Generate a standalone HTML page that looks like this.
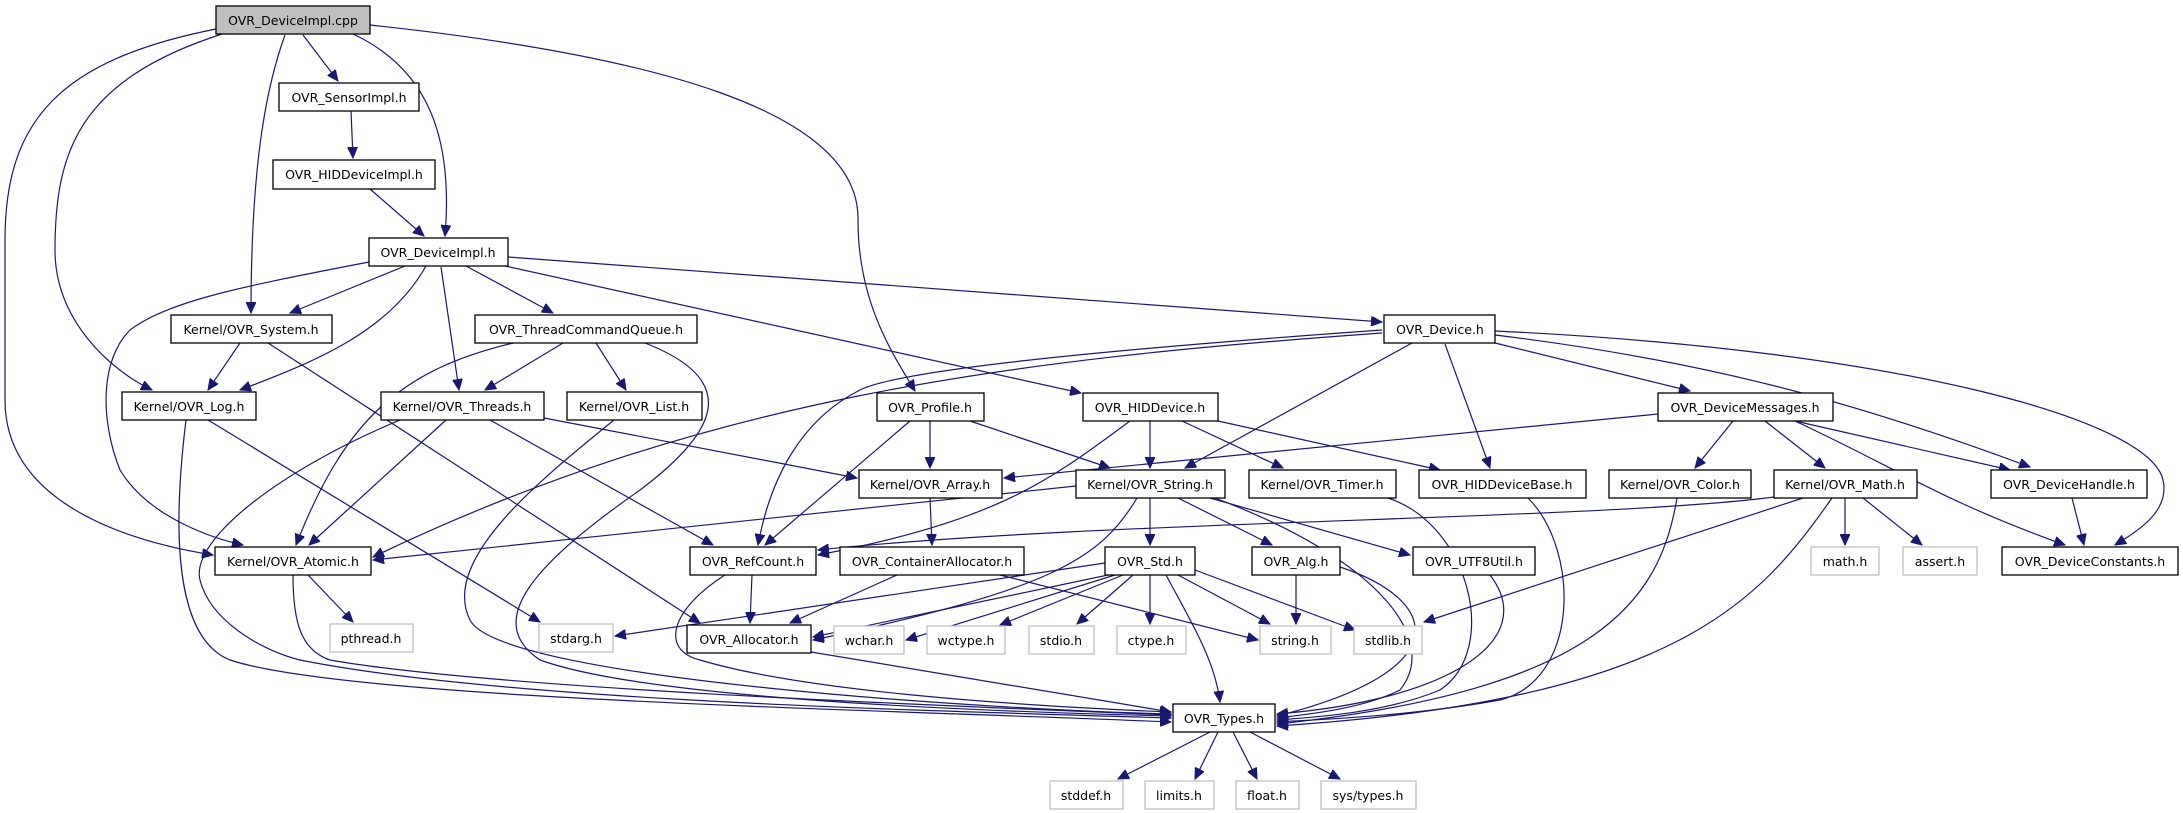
<!DOCTYPE html>
<html><head><meta charset="utf-8"><style>
html,body{margin:0;padding:0;background:#fff;}
svg{display:block;}
text{font-family:"DejaVu Sans","Liberation Sans",sans-serif;font-size:12.5px;fill:#000;}
.n{fill:#fff;stroke:#000;stroke-width:1.3;}
.g{fill:#fff;stroke:#bfbfbf;stroke-width:1.3;}
.r{fill:#bfbfbf;stroke:#000;stroke-width:1.3;}
.e{fill:none;stroke:#191970;stroke-width:1.2;marker-end:url(#a);}
</style></head><body>
<svg width="2183" height="813" viewBox="0 0 2183 813" xmlns="http://www.w3.org/2000/svg">
<defs><marker id="a" markerUnits="userSpaceOnUse" markerWidth="12" markerHeight="10" refX="11" refY="5" orient="auto"><path d="M0,0 L11,5 L0,10 z" fill="#191970" stroke="#191970"/></marker></defs>
<g>
<path class="e" d="M216,29 C60,60 5,120 5,240 L5,400 C5,500 120,540 213,555"/>
<path class="e" d="M222,34 C80,80 55,150 55,250 C55,320 110,370 152,390"/>
<path class="e" d="M285,35 C265,90 251,170 251,313"/>
<path class="e" d="M303,35 L338,81"/>
<path class="e" d="M353,34 C430,70 453,140 445,236"/>
<path class="e" d="M370,25 C650,55 860,110 858,220 C858,300 890,350 915,391"/>
<path class="e" d="M351,111 L353,158"/>
<path class="e" d="M370,189 L424,236"/>
<path class="e" d="M369,262 C250,285 170,300 130,330 C100,360 100,420 120,470 C150,520 220,540 243,545"/>
<path class="e" d="M405,266 L290,313"/>
<path class="e" d="M426,266 C390,330 320,360 240,390"/>
<path class="e" d="M441,267 L459,390"/>
<path class="e" d="M466,266 L553,313"/>
<path class="e" d="M505,266 L1081,393"/>
<path class="e" d="M508,257 L1382,322"/>
<path class="e" d="M240,343 L208,390"/>
<path class="e" d="M268,343 L700,623"/>
<path class="e" d="M513,343 C400,370 345,420 296,545"/>
<path class="e" d="M563,343 L485,390"/>
<path class="e" d="M596,343 L626,390"/>
<path class="e" d="M645,343 C740,380 720,430 640,490 C540,560 480,620 540,660 C650,700 1000,712 1171,716"/>
<path class="e" d="M614,420 C540,480 440,560 470,620 C500,680 1000,710 1171,714"/>
<path class="e" d="M186,420 C170,550 180,640 230,660 C350,700 900,710 1171,722"/>
<path class="e" d="M208,420 L540,622"/>
<path class="e" d="M446,420 L309,545"/>
<path class="e" d="M400,420 C280,470 190,540 200,580 C210,620 260,650 300,660 C500,700 900,710 1171,718"/>
<path class="e" d="M490,420 L713,545"/>
<path class="e" d="M544,418 L857,478"/>
<path class="e" d="M308,575 L353,622"/>
<path class="e" d="M293,575 C293,620 300,650 330,660 C500,690 1000,708 1171,715"/>
<path class="e" d="M910,421 L765,545"/>
<path class="e" d="M930,421 L930,468"/>
<path class="e" d="M970,421 L1110,468"/>
<path class="e" d="M1382,330 C1100,350 900,370 860,390 C800,420 770,480 758,545"/>
<path class="e" d="M1382,333 C1000,360 700,400 373,557"/>
<path class="e" d="M1412,343 L1185,468"/>
<path class="e" d="M1445,344 L1490,468"/>
<path class="e" d="M1495,343 L1690,391"/>
<path class="e" d="M1495,335 C1700,360 1850,400 2030,467"/>
<path class="e" d="M1495,331 C1900,350 2150,420 2163,480 C2170,510 2140,530 2115,545"/>
<path class="e" d="M1130,421 C1050,480 1000,520 818,555"/>
<path class="e" d="M1150,421 L1150,468"/>
<path class="e" d="M1182,421 L1283,468"/>
<path class="e" d="M1218,421 L1440,470"/>
<path class="e" d="M1658,414 L1004,478"/>
<path class="e" d="M1733,421 L1695,468"/>
<path class="e" d="M1765,421 L1825,468"/>
<path class="e" d="M1795,421 L2010,470"/>
<path class="e" d="M1795,421 C1900,470 1940,500 2065,545"/>
<path class="e" d="M1076,486 L373,560"/>
<path class="e" d="M1150,498 L1150,545"/>
<path class="e" d="M1178,498 L1272,545"/>
<path class="e" d="M1210,498 L1410,555"/>
<path class="e" d="M1215,498 C1380,560 1440,640 1400,690 C1360,710 1300,715 1277,718"/>
<path class="e" d="M1137,498 C1100,560 1050,590 813,640"/>
<path class="e" d="M930,498 L932,545"/>
<path class="e" d="M1388,498 C1470,525 1500,650 1440,690 C1380,715 1300,718 1277,720"/>
<path class="e" d="M1528,498 C1580,550 1580,680 1500,700 C1400,718 1300,720 1277,722"/>
<path class="e" d="M1677,498 C1660,600 1600,690 1277,724"/>
<path class="e" d="M1774,497 C1600,520 1100,520 818,550"/>
<path class="e" d="M1803,498 L1424,622"/>
<path class="e" d="M1832,498 C1760,600 1680,700 1277,726"/>
<path class="e" d="M1845,498 L1845,545"/>
<path class="e" d="M1863,498 L1922,545"/>
<path class="e" d="M2072,498 L2084,545"/>
<path class="e" d="M752,575 L750,623"/>
<path class="e" d="M725,575 C670,610 660,650 700,660 C800,690 1000,705 1171,712"/>
<path class="e" d="M897,575 L790,623"/>
<path class="e" d="M1000,575 L1258,640"/>
<path class="e" d="M1105,563 L615,636"/>
<path class="e" d="M1108,575 L813,637"/>
<path class="e" d="M1115,575 L906,640"/>
<path class="e" d="M1123,575 L1000,625"/>
<path class="e" d="M1133,575 L1077,624"/>
<path class="e" d="M1150,575 L1150,624"/>
<path class="e" d="M1178,575 L1270,624"/>
<path class="e" d="M1195,570 L1355,630"/>
<path class="e" d="M1166,575 C1190,620 1215,660 1220,702"/>
<path class="e" d="M1296,575 L1296,624"/>
<path class="e" d="M1340,567 C1440,600 1460,670 1277,716"/>
<path class="e" d="M1490,575 C1540,640 1450,700 1277,714"/>
<path class="e" d="M811,652 L1171,712"/>
<path class="e" d="M1210,732 L1118,779"/>
<path class="e" d="M1218,732 L1195,779"/>
<path class="e" d="M1233,732 L1257,779"/>
<path class="e" d="M1250,732 L1340,779"/>
</g>
<g>
<rect class="r" x="216" y="6" width="154" height="28"/><text x="293" y="25" text-anchor="middle">OVR_DeviceImpl.cpp</text>
<rect class="n" x="279" y="83" width="140" height="28"/><text x="349" y="102" text-anchor="middle">OVR_SensorImpl.h</text>
<rect class="n" x="273" y="160" width="162" height="29"/><text x="354" y="179" text-anchor="middle">OVR_HIDDeviceImpl.h</text>
<rect class="n" x="369" y="238" width="139" height="28"/><text x="438" y="257" text-anchor="middle">OVR_DeviceImpl.h</text>
<rect class="n" x="171" y="315" width="161" height="28"/><text x="251" y="334" text-anchor="middle">Kernel/OVR_System.h</text>
<rect class="n" x="475" y="315" width="222" height="28"/><text x="586" y="334" text-anchor="middle">OVR_ThreadCommandQueue.h</text>
<rect class="n" x="1384" y="315" width="111" height="28"/><text x="1440" y="334" text-anchor="middle">OVR_Device.h</text>
<rect class="n" x="122" y="392" width="134" height="28"/><text x="189" y="411" text-anchor="middle">Kernel/OVR_Log.h</text>
<rect class="n" x="381" y="392" width="163" height="28"/><text x="462" y="411" text-anchor="middle">Kernel/OVR_Threads.h</text>
<rect class="n" x="567" y="392" width="135" height="28"/><text x="634" y="411" text-anchor="middle">Kernel/OVR_List.h</text>
<rect class="n" x="877" y="393" width="107" height="28"/><text x="930" y="412" text-anchor="middle">OVR_Profile.h</text>
<rect class="n" x="1083" y="393" width="135" height="28"/><text x="1150" y="412" text-anchor="middle">OVR_HIDDevice.h</text>
<rect class="n" x="1658" y="393" width="175" height="28"/><text x="1745" y="412" text-anchor="middle">OVR_DeviceMessages.h</text>
<rect class="n" x="859" y="470" width="143" height="28"/><text x="930" y="489" text-anchor="middle">Kernel/OVR_Array.h</text>
<rect class="n" x="1076" y="470" width="149" height="28"/><text x="1150" y="489" text-anchor="middle">Kernel/OVR_String.h</text>
<rect class="n" x="1249" y="470" width="147" height="28"/><text x="1322" y="489" text-anchor="middle">Kernel/OVR_Timer.h</text>
<rect class="n" x="1419" y="470" width="167" height="28"/><text x="1502" y="489" text-anchor="middle">OVR_HIDDeviceBase.h</text>
<rect class="n" x="1609" y="470" width="142" height="28"/><text x="1680" y="489" text-anchor="middle">Kernel/OVR_Color.h</text>
<rect class="n" x="1774" y="470" width="143" height="28"/><text x="1845" y="489" text-anchor="middle">Kernel/OVR_Math.h</text>
<rect class="n" x="1991" y="470" width="156" height="28"/><text x="2069" y="489" text-anchor="middle">OVR_DeviceHandle.h</text>
<rect class="n" x="215" y="547" width="156" height="28"/><text x="293" y="566" text-anchor="middle">Kernel/OVR_Atomic.h</text>
<rect class="n" x="690" y="547" width="126" height="28"/><text x="753" y="566" text-anchor="middle">OVR_RefCount.h</text>
<rect class="n" x="840" y="547" width="184" height="28"/><text x="932" y="566" text-anchor="middle">OVR_ContainerAllocator.h</text>
<rect class="n" x="1105" y="547" width="90" height="28"/><text x="1150" y="566" text-anchor="middle">OVR_Std.h</text>
<rect class="n" x="1252" y="547" width="88" height="28"/><text x="1296" y="566" text-anchor="middle">OVR_Alg.h</text>
<rect class="n" x="1413" y="547" width="122" height="28"/><text x="1474" y="566" text-anchor="middle">OVR_UTF8Util.h</text>
<rect class="g" x="1811" y="547" width="68" height="28"/><text x="1845" y="566" text-anchor="middle">math.h</text>
<rect class="g" x="1903" y="547" width="74" height="28"/><text x="1940" y="566" text-anchor="middle">assert.h</text>
<rect class="n" x="2002" y="547" width="176" height="28"/><text x="2090" y="566" text-anchor="middle">OVR_DeviceConstants.h</text>
<rect class="g" x="330" y="624" width="83" height="28"/><text x="371" y="643" text-anchor="middle">pthread.h</text>
<rect class="g" x="539" y="624" width="74" height="28"/><text x="576" y="643" text-anchor="middle">stdarg.h</text>
<rect class="n" x="687" y="625" width="124" height="28"/><text x="749" y="644" text-anchor="middle">OVR_Allocator.h</text>
<rect class="g" x="834" y="626" width="70" height="28"/><text x="869" y="645" text-anchor="middle">wchar.h</text>
<rect class="g" x="927" y="626" width="78" height="28"/><text x="966" y="645" text-anchor="middle">wctype.h</text>
<rect class="g" x="1029" y="626" width="65" height="28"/><text x="1061" y="645" text-anchor="middle">stdio.h</text>
<rect class="g" x="1117" y="626" width="69" height="28"/><text x="1151" y="645" text-anchor="middle">ctype.h</text>
<rect class="g" x="1260" y="626" width="71" height="28"/><text x="1295" y="645" text-anchor="middle">string.h</text>
<rect class="g" x="1354" y="626" width="68" height="28"/><text x="1388" y="645" text-anchor="middle">stdlib.h</text>
<rect class="n" x="1173" y="704" width="102" height="28"/><text x="1224" y="723" text-anchor="middle">OVR_Types.h</text>
<rect class="g" x="1050" y="781" width="73" height="28"/><text x="1086" y="800" text-anchor="middle">stddef.h</text>
<rect class="g" x="1145" y="781" width="69" height="28"/><text x="1179" y="800" text-anchor="middle">limits.h</text>
<rect class="g" x="1236" y="781" width="63" height="28"/><text x="1267" y="800" text-anchor="middle">float.h</text>
<rect class="g" x="1321" y="781" width="95" height="28"/><text x="1368" y="800" text-anchor="middle">sys/types.h</text>
</g>
</svg>
</body></html>
